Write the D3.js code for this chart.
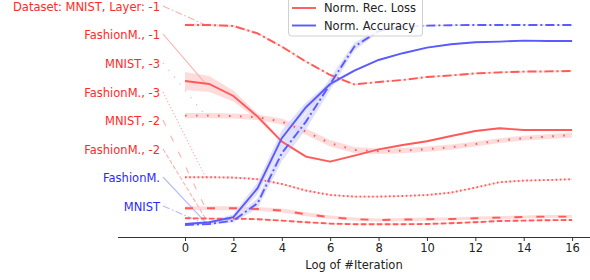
<!DOCTYPE html>
<html>
<head>
<meta charset="utf-8">
<script src="https://cdn.jsdelivr.net/npm/d3@7"></script>
<style>
  html, body { margin: 0; padding: 0; background: #fff; }
  svg { display: block; }
  text { font-family: "DejaVu Sans", sans-serif; }
</style>
</head>
<body>
<svg id="chart" width="590" height="280"></svg>
<script>
// ---- data ----
const iterations = [0,1,2,3,4,5,6,7,8,9,10,11,12,13,14,15,16];
const xTicks = [0,2,4,6,8,10,12,14,16];

// Normalized reconstruction loss (red)
const lossMnistL1   = [1.0,1.0,0.995,0.958,0.892,0.817,0.75,0.703,0.715,0.725,0.74,0.748,0.758,0.763,0.767,0.768,0.77];
const stdMnistL1    = [0.006,0.006,0.006,0.006,0.006,0.006,0.005,0.005,0.004,0.004,0.004,0.004,0.004,0.004,0.004,0.004,0.004];
const lossFashionL1 = [0.72,0.705,0.645,0.542,0.417,0.342,0.317,0.347,0.378,0.40,0.419,0.445,0.47,0.484,0.475,0.475,0.475];
const stdFashionL1  = [0.045,0.04,0.028,0.015,0.008,0.006,0.005,0.005,0.004,0.004,0.004,0.004,0.004,0.004,0.004,0.004,0.004];
const lossMnistL3   = [0.547,0.547,0.545,0.539,0.517,0.467,0.409,0.375,0.369,0.372,0.379,0.389,0.405,0.422,0.434,0.442,0.45];
const stdMnistL3    = [0.013,0.013,0.013,0.014,0.015,0.016,0.016,0.015,0.014,0.013,0.013,0.013,0.013,0.012,0.012,0.012,0.012];
const lossFashionL3 = [0.239,0.239,0.237,0.229,0.205,0.172,0.15,0.142,0.142,0.145,0.15,0.162,0.187,0.214,0.222,0.225,0.229];
const stdFashionL3  = [0.005,0.005,0.005,0.005,0.005,0.005,0.004,0.004,0.004,0.004,0.004,0.004,0.004,0.004,0.004,0.004,0.004];
const lossMnistL2   = [0.084,0.084,0.084,0.08,0.072,0.054,0.039,0.029,0.025,0.027,0.029,0.03,0.034,0.037,0.04,0.042,0.042];
const stdMnistL2    = [0.01,0.01,0.01,0.01,0.01,0.01,0.009,0.008,0.008,0.008,0.008,0.008,0.008,0.008,0.008,0.008,0.008];
const lossFashionL2 = [0.034,0.032,0.032,0.029,0.022,0.014,0.007,0.004,0.004,0.004,0.005,0.009,0.014,0.02,0.022,0.024,0.025];
const stdFashionL2  = [0.003,0.003,0.003,0.003,0.003,0.003,0.003,0.003,0.003,0.003,0.003,0.003,0.003,0.003,0.003,0.003,0.003];

// Normalized accuracy (blue)
const accFashion    = [0.005,0.014,0.039,0.184,0.434,0.589,0.705,0.772,0.825,0.859,0.887,0.904,0.914,0.917,0.922,0.92,0.92];
const stdAccFashion = [0.004,0.006,0.015,0.03,0.04,0.025,0.012,0.006,0.004,0.003,0.003,0.003,0.003,0.003,0.003,0.003,0.003];
const accMnist      = [0.0,0.005,0.022,0.109,0.359,0.517,0.705,0.892,0.97,0.99,0.997,0.999,1.0,1.0,1.0,1.0,1.0];
const stdAccMnist   = [0.004,0.005,0.01,0.025,0.04,0.04,0.03,0.02,0.008,0.004,0.003,0.003,0.003,0.003,0.003,0.003,0.003];

// Left labels (top to bottom) and their vertical positions (same normalized scale)
const labelTexts = ["Dataset: MNIST, Layer: -1","FashionM., -1","MNIST, -3","FashionM., -3","MNIST, -2","FashionM., -2","FashionM.","MNIST"];
const labelPos   = [1.095,0.955,0.81,0.665,0.525,0.38,0.24,0.095];
const legendTexts = ["Norm. Rec. Loss","Norm. Accuracy"];
const xLabel = "Log of #Iteration";

// ---- styles ----
const RED = "#ff5a5a", BLUE = "#5a5aff";
const RED_TXT = "#ff2a2a", BLUE_TXT = "#2a2aff";
const series = [
  {label: 0, values: lossMnistL1,   std: stdMnistL1,    color: RED,  fill: "#ffd0d0", dash: "9,3,2,3"},
  {label: 1, values: lossFashionL1, std: stdFashionL1,  color: RED,  fill: "#ffd0d0", dash: null},
  {label: 2, values: lossMnistL3,   std: stdMnistL3,    color: RED,  fill: "#ffd0d0", dash: "1.6,9.4"},
  {label: 3, values: lossFashionL3, std: stdFashionL3,  color: RED,  fill: "#ffd0d0", dash: "1.6,2.6"},
  {label: 4, values: lossMnistL2,   std: stdMnistL2,    color: RED,  fill: "#ffd0d0", dash: "8,14"},
  {label: 5, values: lossFashionL2, std: stdFashionL2,  color: RED,  fill: "#ffd0d0", dash: "5.5,2.5"},
  {label: 6, values: accFashion,    std: stdAccFashion, color: BLUE, fill: "#d6d6ff", dash: null},
  {label: 7, values: accMnist,      std: stdAccMnist,   color: BLUE, fill: "#d6d6ff", dash: "9,3,2,3"}
];
const labelColors = [RED_TXT,RED_TXT,RED_TXT,RED_TXT,RED_TXT,RED_TXT,BLUE_TXT,BLUE_TXT];
const connColors  = ["#ffb0b0","#ffb0b0","#ffb0b0","#ffb0b0","#ffb0b0","#ffb0b0","#b8b8ff","#b8b8ff"];

// ---- scales ----
const svg = d3.select("#chart");
const x = d3.scaleLinear().domain([-2.77, 16.74]).range([118, 590]);
const y = d3.scaleLinear().domain([0, 1]).range([225, 25]);
const axisY = 237;

// ---- bands ----
const area = d3.area()
  .x((d, i) => x(iterations[i]))
  .y0(d => y(d[0] - d[1]))
  .y1(d => y(d[0] + d[1]));
series.forEach(s => {
  svg.append("path")
    .datum(s.values.map((v, i) => [v, s.std[i]]))
    .attr("d", area)
    .attr("fill", s.fill)
    .attr("fill-opacity", 0.75)
    .attr("stroke", "none");
});

// ---- connector lines from labels ----
const connX = 0.85;
series.forEach(s => {
  const yv = s.values[0] + (s.values[1] - s.values[0]) * connX;
  svg.append("line")
    .attr("x1", 163).attr("y1", y(labelPos[s.label]))
    .attr("x2", x(connX)).attr("y2", y(yv))
    .attr("stroke", connColors[s.label])
    .attr("stroke-width", 1.1)
    .attr("stroke-dasharray", s.dash ? s.dash.split(",").map(v => +v * 0.8).join(",") : null);
});

// ---- lines ----
const line = d3.line().x((d, i) => x(iterations[i])).y(d => y(d));
series.forEach(s => {
  svg.append("path")
    .datum(s.values)
    .attr("d", line)
    .attr("fill", "none")
    .attr("stroke", s.color)
    .attr("stroke-width", 1.9)
    .attr("stroke-dasharray", s.dash);
});

// ---- labels ----
svg.append("g").selectAll("text")
  .data(labelTexts)
  .join("text")
  .attr("x", 160)
  .attr("y", (d, i) => y(labelPos[i]) + 1)
  .attr("text-anchor", "end")
  .attr("dominant-baseline", "central")
  .attr("font-size", "11.5px")
  .attr("fill", (d, i) => labelColors[i])
  .text(d => d);

// ---- x axis ----
const ax = svg.append("g")
  .attr("transform", `translate(0,${axisY})`)
  .call(d3.axisBottom(x).tickValues(xTicks).tickFormat(d3.format("d")).tickSize(4).tickPadding(3));
ax.select(".domain").attr("stroke", "#333").attr("stroke-width", 1).attr("d", "M118,0.5H590");
ax.selectAll(".tick line").attr("stroke", "#333");
ax.selectAll(".tick text").attr("font-size", "11.5px").attr("fill", "#222").attr("font-family", "DejaVu Sans, sans-serif");

svg.append("text")
  .attr("x", (118 + 590) / 2)
  .attr("y", 269)
  .attr("text-anchor", "middle")
  .attr("font-size", "11.5px")
  .attr("fill", "#222")
  .text(xLabel);

// ---- legend ----
const lg = svg.append("g");
lg.append("rect")
  .attr("x", 288.5).attr("y", -5).attr("width", 134).attr("height", 41).attr("rx", 3)
  .attr("fill", "#fff").attr("fill-opacity", 0.85)
  .attr("stroke", "#d0d0d0").attr("stroke-width", 1);
[RED, BLUE].forEach((c, i) => {
  const yy = 8 + i * 17.5;
  lg.append("line").attr("x1", 292).attr("x2", 316).attr("y1", yy).attr("y2", yy)
    .attr("stroke", c).attr("stroke-width", 1.9);
  lg.append("text").attr("x", 324).attr("y", yy).attr("dominant-baseline", "central")
    .attr("font-size", "11.5px").attr("fill", "#222").text(legendTexts[i]);
});
</script>
</body>
</html>
